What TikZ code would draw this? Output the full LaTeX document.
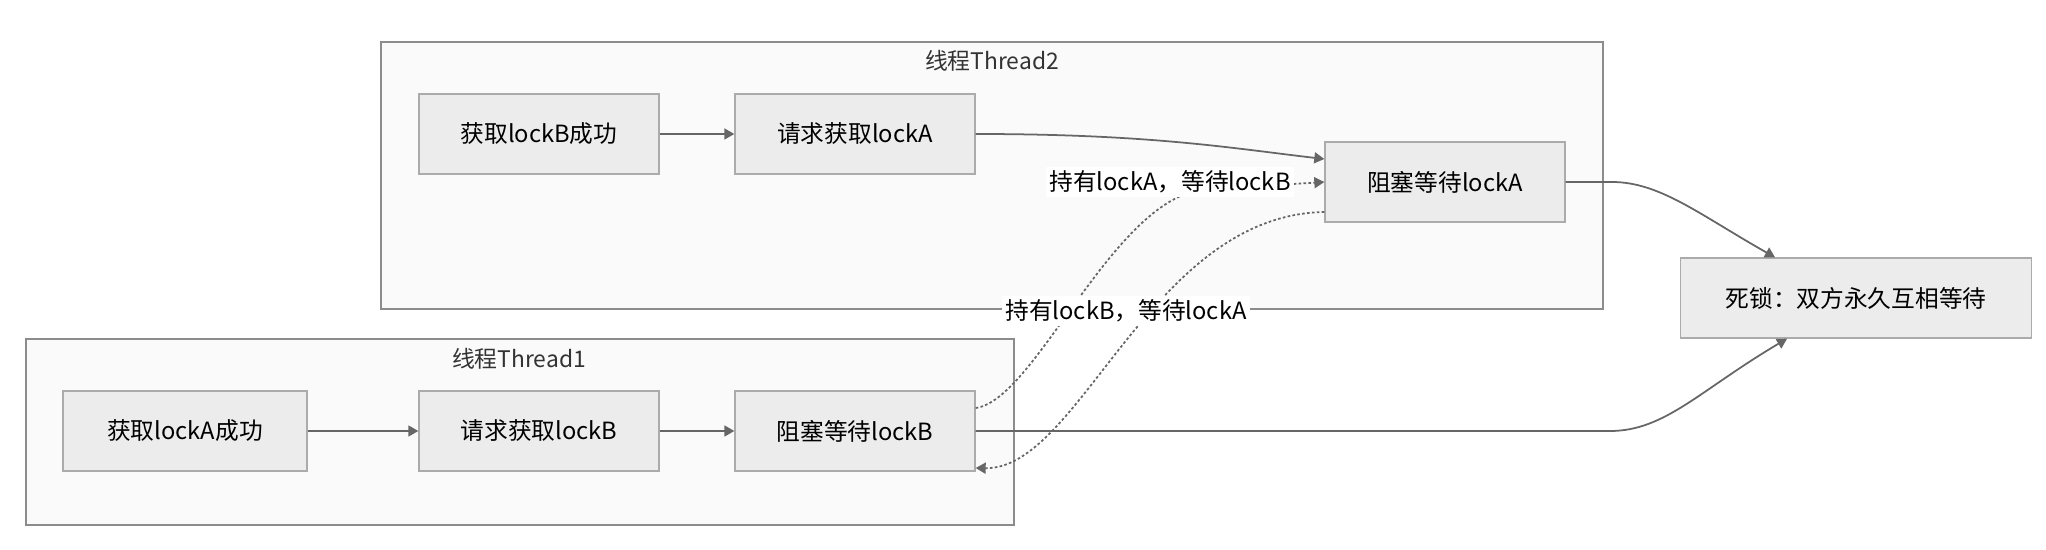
\documentclass[tikz,border=0pt]{standalone}
\usepackage{fontspec}
\setmainfont{Noto Sans CJK SC}
\usetikzlibrary{arrows.meta}

\definecolor{boxfill}{HTML}{ECECEC}
\definecolor{boxline}{HTML}{ABABAB}
\definecolor{groupfill}{HTML}{FAFAFA}
\definecolor{groupline}{HTML}{8C8C8C}
\definecolor{titletext}{HTML}{333333}
\definecolor{edgegray}{HTML}{666666}

\begin{document}
\begin{tikzpicture}[x=0.02cm, y=-0.02cm,
    statebox/.style={draw=boxline, fill=boxfill, line width=0.8pt, minimum width=4.8cm, minimum height=1.6cm, font=\fontsize{13.5}{16}\selectfont},
    group/.style={draw=groupline, fill=groupfill, line width=0.8pt},
    grouptitle/.style={text=titletext, font=\fontsize{13}{16}\selectfont},
    flow/.style={draw=edgegray, line width=1pt, -{Triangle[length=0.2cm, width=0.22cm]}},
    hold/.style={flow, dash pattern=on 1.5pt off 1.3pt},
    edgelabel/.style={fill=white, inner sep=2pt, font=\fontsize{13.5}{16}\selectfont}]

    \useasboundingbox (0,0) rectangle (2046,550);

    % Thread2
    \draw[group] (381,42) rectangle (1603,309);
    \node[grouptitle] (t2) at (992,61) {线程Thread2};
    \node[statebox] (B1) at (539,134) {获取lockB成功};
    \node[statebox] (B2) at (855,134) {请求获取lockA};
    \node[statebox] (B3) at (1445,182) {阻塞等待lockA};

    % Thread1
    \draw[group] (26,339) rectangle (1014,525);
    \node[grouptitle] (t1) at (519,359) {线程Thread1};
    \node[statebox, minimum width=4.88cm] (A1) at (185,431) {获取lockA成功};
    \node[statebox] (A2) at (539,431) {请求获取lockB};
    \node[statebox] (A3) at (855,431) {阻塞等待lockB};

    % Deadlock
    \node[statebox, minimum width=7.02cm] (dead) at (1856,298) {死锁：双方永久互相等待};

    % Flows
    \draw[flow] (B1) -- (B2);
    \draw[flow] (B2.east) .. controls (1150,134) and (1230,148) .. ([yshift=0.46cm]B3.west);
    \draw[flow] (A1) -- (A2);
    \draw[flow] (A2) -- (A3);
    \draw[flow] (B3.east) -- (1612,182) .. controls (1660,182) and (1700,215) .. ([xshift=-1.62cm]dead.north);
    \draw[flow] (A3.east) -- (1610,431) .. controls (1665,431) and (1700,390) .. ([xshift=-1.38cm]dead.south);

    % Waiting on each other
    \draw[hold] ([yshift=0.46cm]A3.east) .. controls (1035,400) and (1110,205) .. (1200,190) -- (B3.west);
    \draw[hold] ([yshift=-0.6cm]B3.west) .. controls (1150,215) and (1080,470) .. ([yshift=-0.74cm]A3.east);
    \node[edgelabel] (lab1) at (1170,182) {持有lockA，等待lockB};
    \node[edgelabel] (lab2) at (1126,311) {持有lockB，等待lockA};
\end{tikzpicture}
\end{document}
